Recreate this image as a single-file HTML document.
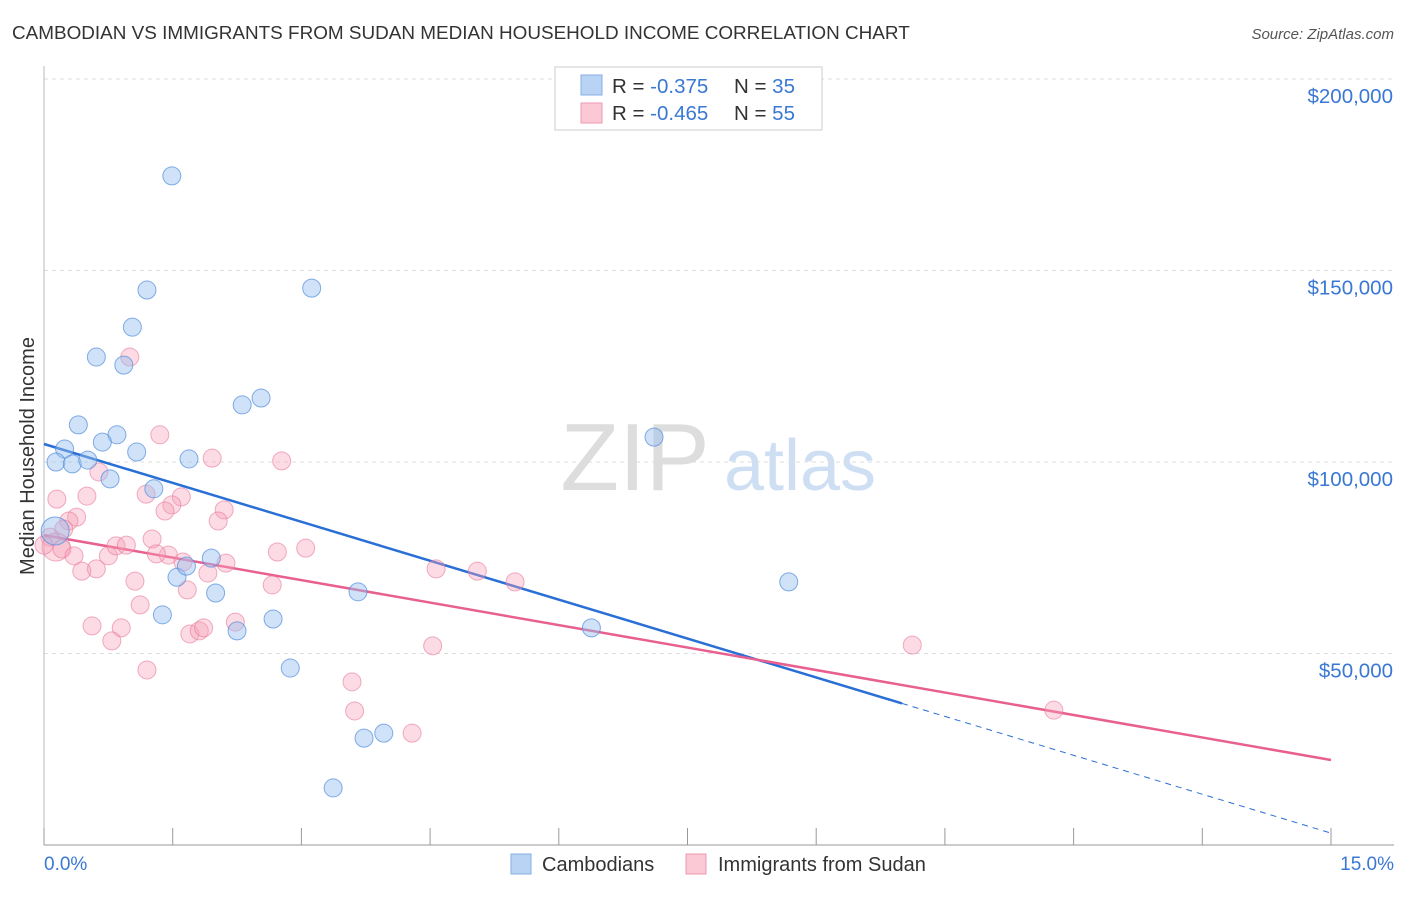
<!DOCTYPE html>
<html><head><meta charset="utf-8"><style>
body{margin:0;background:#fff;font-family:"Liberation Sans",sans-serif;}
svg text{font-family:"Liberation Sans",sans-serif;}
</style></head><body>
<svg id="chart" width="1406" height="892" xmlns="http://www.w3.org/2000/svg">
<text x="12" y="39" font-size="18.9" fill="#333">CAMBODIAN VS IMMIGRANTS FROM SUDAN MEDIAN HOUSEHOLD INCOME CORRELATION CHART</text>
<text x="1394" y="39" font-size="15" fill="#555" text-anchor="end" font-style="italic">Source: ZipAtlas.com</text>
<text transform="translate(34,456) rotate(-90)" font-size="20" fill="#333" text-anchor="middle">Median Household Income</text>
<g>
<text x="635" y="490" font-size="96" fill="#ddd" text-anchor="middle" font-family="Liberation Serif">ZIP</text>
<text x="800" y="490" font-size="72" fill="#cfdff3" text-anchor="middle">atlas</text>
</g>
<g id="grid"></g><g id="axes"></g><g id="lines"></g><g id="pts"></g>
<g>
<rect x="555" y="67" width="267" height="63" fill="#fff" stroke="#ccc"/>
<rect x="581" y="75" width="21" height="20" fill="#b9d3f4" stroke="#86aee6"/>
<rect x="581" y="103" width="21" height="20" fill="#fbc8d6" stroke="#ee9ab2"/>
<text x="612" y="93" font-size="20.5" fill="#333">R = <tspan fill="#3a78d4">-0.375</tspan></text>
<text x="734" y="93" font-size="20.5" fill="#333">N = <tspan fill="#3a78d4">35</tspan></text>
<text x="612" y="120" font-size="20.5" fill="#333">R = <tspan fill="#3a78d4">-0.465</tspan></text>
<text x="734" y="120" font-size="20.5" fill="#333">N = <tspan fill="#3a78d4">55</tspan></text>
</g>
<g>
<rect x="511" y="854" width="20" height="20" fill="#b9d3f4" stroke="#86aee6"/>
<text x="542" y="871" font-size="20" fill="#333">Cambodians</text>
<rect x="686" y="854" width="20" height="20" fill="#fbc8d6" stroke="#ee9ab2"/>
<text x="718" y="871" font-size="20" fill="#333">Immigrants from Sudan</text>
</g>
</svg>
<script>
const yTicks=[50000,100000,150000,200000];
const yTickLabels=["$50,000","$100,000","$150,000","$200,000"];
const xTickLabels=["0.0%","15.0%"];
const blueX=[1.49,1.20,3.12,1.03,0.61,0.93,2.53,2.31,0.40,0.24,0.85,0.68,1.08,0.14,0.33,0.51,1.69,0.77,1.28,7.11,0.13,1.95,1.55,1.66,2.00,1.38,2.25,2.67,3.66,2.87,6.38,8.68,3.73,3.96,3.37];
const blueY=[174.7,144.9,145.4,135.2,127.4,125.3,116.7,114.9,109.7,103.4,107.1,105.2,102.6,100.0,99.5,100.5,100.8,95.6,93.0,106.5,82.0,74.9,69.9,72.8,65.8,60.1,55.9,59.0,66.1,46.2,56.7,68.7,27.9,29.2,14.9];
const pinkX=[1.00,1.35,1.96,2.77,0.15,0.50,0.64,1.60,1.49,1.19,2.10,1.41,2.03,0.38,0.29,0.23,0.07,0.14,0.21,0.35,0.75,0.84,0.96,1.26,1.45,1.62,2.12,2.72,3.05,0.61,0.44,1.91,1.06,1.67,2.66,4.57,5.05,5.49,1.12,0.56,0.90,0.79,1.20,1.70,1.81,1.86,2.23,4.53,10.12,3.59,3.62,4.29,11.77,0.0,1.31];
const pinkY=[127.4,107.1,101.0,100.3,90.3,91.1,97.4,90.9,88.8,91.6,87.5,87.2,84.6,85.6,84.6,82.5,80.4,77.8,77.3,75.5,75.5,78.1,78.3,79.9,75.7,73.9,73.6,76.5,77.5,72.1,71.5,71.0,68.9,66.6,67.9,72.1,71.5,68.7,62.7,57.2,56.7,53.3,45.7,55.1,55.9,56.7,58.2,52.0,52.2,42.6,35.0,29.2,35.2,78.3,76.0];
const blueTrend=[104.7,3.1];
const blueSolidEnd=10.0;
const pinkTrend=[80.9,22.2];
const X0=44,X1=1331,Y0=845,PXK=191.5/50;
const sx=v=>X0+(X1-X0)*v/15;
const sy=k=>Y0-k*PXK;
const NS="http://www.w3.org/2000/svg";
function mk(tag,attrs,parent){const e=document.createElementNS(NS,tag);for(const k in attrs)e.setAttribute(k,attrs[k]);document.getElementById(parent).appendChild(e);return e;}
let e=mk('line',{x1:44,y1:845,x2:1394,y2:845,stroke:'#999'},'axes');


e=mk('line',{x1:44,y1:66,x2:44,y2:845,stroke:'#bbb'},'axes');


for(let i=0;i<=10;i++){e=mk('line',{x1:sx(i*1.5),y1:828,x2:sx(i*1.5),y2:845,stroke:'#999'},'axes');

}
e=mk('line',{x1:44,y1:79,x2:1394,y2:79,stroke:'#ddd','stroke-dasharray':'4,4'},'grid');


yTicks.forEach((t,i)=>{const y=sy(t/1000);
e=mk('line',{x1:44,y1:y,x2:1394,y2:y,stroke:'#ddd','stroke-dasharray':'4,4'},'grid');


e=mk('text',{x:1393,y:y+24,'font-size':20.5,fill:'#3a78d4','text-anchor':'end'},'axes');e.textContent=yTickLabels[i];

});
e=mk('text',{x:44,y:870,'font-size':19,fill:'#3a78d4'},'axes');e.textContent=xTickLabels[0];


e=mk('text',{x:1394,y:870,'font-size':19,fill:'#3a78d4','text-anchor':'end'},'axes');e.textContent=xTickLabels[1];


function pt(x,y,fill,stroke,name,r){e=mk('circle',{cx:sx(x),cy:sy(y),r:r,fill:fill,stroke:stroke,'stroke-width':1},'pts');

}
pinkX.forEach((x,i)=>pt(x,pinkY[i],'rgba(246,160,185,0.38)','rgba(232,120,155,0.6)','sudan-point',i===17?14:9));
blueX.forEach((x,i)=>pt(x,blueY[i],'rgba(150,190,240,0.45)','rgba(80,140,220,0.7)','cambodian-point',i===20?14:9));
const bAt=v=>blueTrend[0]+(blueTrend[1]-blueTrend[0])*v/15;
e=mk('line',{x1:sx(0),y1:sy(bAt(0)),x2:sx(blueSolidEnd),y2:sy(bAt(blueSolidEnd)),stroke:'#2a6fd6','stroke-width':2.5},'lines');


e=mk('line',{x1:sx(blueSolidEnd),y1:sy(bAt(blueSolidEnd)),x2:sx(15),y2:sy(bAt(15)),stroke:'#2a6fd6','stroke-width':1,'stroke-dasharray':'6,5'},'lines');


e=mk('line',{x1:sx(0),y1:sy(pinkTrend[0]),x2:sx(15),y2:sy(pinkTrend[1]),stroke:'#e8608f','stroke-width':2.5},'lines');


</script>
</body></html>
